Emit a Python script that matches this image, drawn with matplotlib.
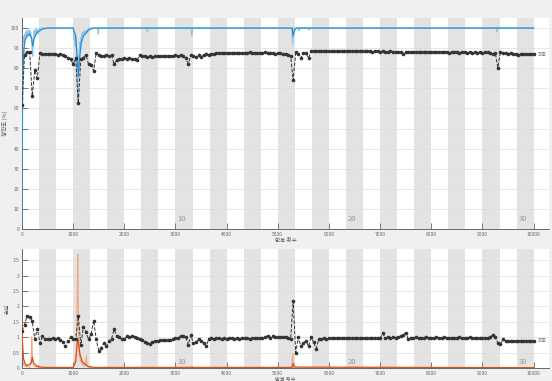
import matplotlib
matplotlib.use("Agg")
import matplotlib.pyplot as plt
import numpy as np

plt.rcParams['font.family'] = ['Noto Sans CJK KR', 'DejaVu Sans']

# Epoch settings
n_epochs = 30
iters_per_epoch = 10000 / 30
epoch_labels = [10, 20, 30]

# Validation checks every 50 iterations
val_iter = list(range(0, 10001, 50))
val_acc = [
    61.5, 86.7, 88.3, 88.0, 66.0, 79.0, 75.0, 87.5, 87.3, 87.0,
    87.2, 87.0, 87.1, 87.0, 86.8, 87.0, 86.5, 86.0, 85.0, 84.5,
    82.0, 85.0, 62.5, 84.8, 85.3, 86.7, 82.0, 81.7, 78.7, 87.5,
    86.5, 86.3, 86.2, 86.4, 86.3, 86.5, 82.0, 84.0, 84.6, 84.8,
    85.0, 84.7, 85.0, 84.5, 84.8, 84.0, 86.5, 86.2, 86.0, 85.8,
    86.0, 85.8, 86.0, 86.1, 85.9, 86.0, 86.2, 86.0, 86.3, 86.1,
    86.4, 86.0, 86.5, 86.3, 85.0, 82.3, 86.5, 86.2, 85.5, 86.5,
    85.5, 86.8, 87.0, 86.8, 87.2, 87.3, 87.5, 87.4, 87.6, 87.5,
    87.6, 87.7, 87.5, 87.8, 87.6, 87.7, 87.8, 87.6, 87.7, 87.9,
    87.7, 87.8, 87.6, 87.8, 87.7, 87.9, 87.5, 87.8, 87.6, 87.3,
    87.5, 87.6, 87.2, 87.0, 86.8, 86.0, 74.0, 88.0, 87.0, 85.0,
    87.5, 87.4, 85.0, 88.5, 88.4, 88.5, 88.6, 88.4, 88.5, 88.6,
    88.5, 88.6, 88.4, 88.5, 88.6, 88.5, 88.7, 88.5, 88.6, 88.5,
    88.6, 88.5, 88.4, 88.6, 88.5, 88.4, 88.5, 88.3, 88.4, 88.5,
    88.3, 88.4, 88.2, 88.3, 88.4, 88.2, 88.3, 88.2, 88.3, 87.0,
    88.2, 88.3, 88.1, 88.2, 88.3, 88.0, 88.2, 88.1, 88.0, 88.2,
    88.1, 88.0, 88.2, 88.0, 87.9, 88.1, 88.0, 87.8, 88.0, 87.9,
    88.0, 87.8, 87.9, 88.0, 87.8, 87.9, 87.7, 87.9, 87.8, 88.0,
    87.8, 87.9, 88.0, 87.5, 87.0, 87.5, 80.3, 88.0, 87.6, 87.5,
    87.3, 87.4, 87.0, 87.2, 86.8, 87.0, 87.2, 86.9, 87.1, 87.0,
    87.0,
]
val_loss = [
    1.20, 1.41, 1.70, 1.66, 1.52, 0.93, 1.28, 0.80, 1.03, 0.93,
    0.95, 0.94, 0.96, 0.95, 0.97, 0.92, 0.85, 0.70, 0.88, 1.00,
    0.93, 0.95, 1.68, 0.74, 1.34, 1.18, 0.93, 1.10, 1.54, 0.93,
    0.56, 0.66, 0.80, 0.70, 0.88, 0.95, 1.25, 1.04, 1.00, 0.95,
    0.93, 1.03, 1.02, 1.03, 1.00, 0.98, 0.95, 0.90, 0.85, 0.80,
    0.78, 0.84, 0.86, 0.88, 0.90, 0.90, 0.92, 0.91, 0.92, 0.95,
    0.97, 0.96, 1.04, 1.05, 1.02, 0.75, 1.07, 0.80, 0.84, 0.93,
    0.88, 0.80, 0.70, 0.95, 0.96, 0.95, 0.97, 0.96, 0.95, 0.96,
    0.95, 0.96, 0.97, 0.95, 0.96, 0.95, 0.96, 0.97, 0.96, 0.95,
    0.96, 0.97, 0.98, 0.96, 0.98, 0.99, 1.05, 0.98, 1.03, 0.99,
    1.00, 1.02, 1.00, 1.01, 0.98, 0.93, 2.18, 0.50, 1.00, 0.70,
    0.80, 0.89, 0.70, 1.00, 0.83, 0.63, 0.93, 0.95, 0.96, 0.95,
    0.96, 0.97, 0.96, 0.98, 0.97, 0.96, 0.97, 0.98, 0.96, 0.97,
    0.98, 0.97, 0.96, 0.97, 0.98, 0.97, 0.96, 0.98, 0.97, 0.98,
    0.97, 1.12, 0.98, 0.99, 0.98, 1.00, 0.98, 1.02, 1.04, 1.07,
    1.15, 0.93, 0.98, 0.97, 0.99, 0.98, 0.97, 0.98, 0.99, 0.98,
    0.97, 0.98, 0.99, 0.97, 0.98, 0.99, 0.98, 0.97, 0.98, 0.97,
    0.98, 0.99, 0.97, 0.98, 0.97, 0.99, 0.98, 0.97, 0.96, 0.98,
    0.97, 0.96, 0.98, 1.00, 1.07, 1.00, 0.82, 0.78, 0.93, 0.88,
    0.87, 0.88, 0.89, 0.87, 0.88, 0.87, 0.88, 0.89, 0.88, 0.88,
    0.88,
]

# Training accuracy (raw and smoothed), read at sparse iterations
train_acc_iter = [1, 5, 10, 20, 30, 40, 50, 60, 70, 80, 90, 100, 110, 120, 130, 140, 150,
                  160, 170, 180, 190, 200, 210, 220, 230, 240, 250, 260, 270, 280, 290, 300,
                  320, 340, 360, 380, 400, 1000, 1010, 1020, 1030, 1040, 1050, 1060, 1070,
                  1080, 1090, 1100, 1110, 1120, 1130, 1140, 1150, 1160, 1170, 1180, 1190,
                  1200, 1220, 1240, 1260, 1280, 1300, 1480, 1490, 1500, 2440, 2450, 2460,
                  3300, 3310, 3320, 3330, 3340, 5270, 5280, 5290, 5300, 5310, 5400, 5410,
                  5420, 5600, 5610, 5620, 9270, 9280, 9290, 10000]
train_acc = [0, 60, 85, 92, 96, 93, 97, 94, 98, 95, 99, 96, 98, 97, 99, 96, 99,
             97, 98, 95, 92, 89, 86, 93, 97, 99, 96, 99, 97, 100, 98, 99,
             97, 100, 99, 100, 100, 100, 98, 94, 97, 91, 95, 86, 78,
             70, 64, 72, 84, 90, 93, 88, 95, 92, 97, 94, 98,
             96, 99, 97, 99, 98, 100, 100, 97, 100, 100, 98, 100,
             100, 97, 96, 98, 100, 100, 96, 92, 97, 100, 100, 98.5,
             100, 100, 99, 100, 100, 98, 100, 100]
smooth_acc_iter = [1, 10, 20, 40, 60, 100, 150, 190, 210, 240, 300, 400, 500, 1000, 1050,
                   1080, 1100, 1130, 1160, 1200, 1300, 1400, 5280, 5300, 5330, 5360, 10000]
smooth_acc = [0, 60, 80, 90, 94, 96, 97, 95, 91, 95, 98, 99.5, 100, 100, 96,
              85, 76, 86, 93, 96, 99, 100, 100, 96, 99, 100, 100]

# Training loss (raw and smoothed)
train_loss_iter = [1, 5, 10, 20, 30, 40, 50, 60, 70, 80, 90, 100, 120, 140, 160, 180, 190,
                   200, 210, 220, 240, 260, 280, 300, 320, 330, 360, 400, 1000, 1020, 1040,
                   1060, 1070, 1080, 1090, 1100, 1110, 1120, 1130, 1140, 1160, 1180, 1200,
                   1220, 1240, 1260, 1270, 1300, 1350, 1400, 3300, 3320, 3340, 5270, 5280,
                   5290, 5300, 5310, 10000]
train_loss = [1.5, 0.9, 0.4, 0.2, 0.15, 0.08, 0.12, 0.05, 0.1, 0.04, 0.06, 0.03, 0.05, 0.02,
              0.04, 0.3, 1.0, 0.5, 0.25, 0.1, 0.04, 0.06, 0.02, 0.03, 0.1, 0.02, 0.01, 0.01,
              0.01, 0.1, 0.3, 0.5, 1.2, 2.5, 3.7, 2.0, 0.8, 0.4, 0.5, 0.2, 0.3, 0.1, 0.15,
              0.05, 0.1, 0.4, 0.05, 0.03, 0.02, 0.01, 0.01, 0.06, 0.01, 0.01, 0.2,
              0.45, 0.15, 0.01, 0.01]
smooth_loss_iter = [1, 10, 30, 60, 100, 180, 200, 230, 300, 400, 1000, 1050, 1080, 1100,
                    1130, 1180, 1250, 1300, 1400, 5280, 5300, 5330, 10000]
smooth_loss = [1.5, 0.8, 0.3, 0.15, 0.08, 0.15, 0.35, 0.15, 0.05, 0.02, 0.02, 0.2, 0.8, 0.9,
               0.45, 0.2, 0.1, 0.05, 0.02, 0.02, 0.15, 0.03, 0.01]

fig = plt.figure(figsize=(5.52, 3.81), dpi=100, facecolor='#f0f0f0')
ax1 = fig.add_axes([22 / 552, 1 - 229 / 381, 527 / 552, 211 / 381])
ax2 = fig.add_axes([22 / 552, 1 - 368 / 381, 527 / 552, 119 / 381])


def style_axes(ax):
    ax.set_facecolor('white')
    ax.set_xlim(0, 10300)
    for e in range(n_epochs):
        if e % 2 == 1:
            ax.axvspan(e * iters_per_epoch, (e + 1) * iters_per_epoch,
                       color='#e3e3e3', lw=0, zorder=0.2)
    ax.set_axisbelow(True)
    ax.grid(axis='y', color='#dddddd', lw=0.5)
    for s in ['top', 'right']:
        ax.spines[s].set_visible(False)
    for s in ['left', 'bottom']:
        ax.spines[s].set_color('#666666')
        ax.spines[s].set_linewidth(0.7)
    ax.set_xticks(range(0, 10001, 1000))
    ax.tick_params(direction='in', length=4, width=0.6, colors='#666666',
                   labelsize=3.5, pad=2)


style_axes(ax1)
ax1.set_ylim(0, 105)
ax1.set_yticks(range(0, 101, 10))
ax1.plot(train_acc_iter, train_acc, color='#8cc3ea', lw=0.8, zorder=2)
ax1.plot(smooth_acc_iter, smooth_acc, color='#2a8fd0', lw=0.9, zorder=3)
ax1.plot(val_iter, val_acc, color='#333333', ls='--', lw=0.7, marker='o',
         markersize=2.6, markerfacecolor='#333333', markeredgewidth=0, zorder=4)
ax1.text(10080, val_acc[-1], '최종', fontsize=3.5, color='#777777', va='center')
ax1.set_xlabel('반복 횟수', fontsize=4, color='#555555', labelpad=1)
ax1.set_ylabel('정확도 (%)', fontsize=4, color='#555555', labelpad=2)
for n in epoch_labels:
    ax1.text((n - 1) * iters_per_epoch + 40, 4, str(n), fontsize=5.5, color='#999999')

style_axes(ax2)
ax2.set_ylim(0, 3.86)
ax2.set_yticks([0, 0.5, 1, 1.5, 2, 2.5, 3, 3.5])
ax2.set_yticklabels(['0', '0.5', '1', '1.5', '2', '2.5', '3', '3.5'])
ax2.plot(train_loss_iter, train_loss, color='#f4a67f', lw=0.8, zorder=2)
ax2.plot(smooth_loss_iter, smooth_loss, color='#d95319', lw=0.9, zorder=3)
ax2.plot(val_iter, val_loss, color='#333333', ls='--', lw=0.7, marker='o',
         markersize=2.6, markerfacecolor='#333333', markeredgewidth=0, zorder=4)
ax2.text(10080, val_loss[-1], '최종', fontsize=3.5, color='#777777', va='center')
ax2.set_xlabel('반복 횟수', fontsize=3.8, color='#555555', labelpad=0)
ax2.set_ylabel('손실', fontsize=4, color='#555555', labelpad=2)
for n in epoch_labels:
    ax2.text((n - 1) * iters_per_epoch + 40, 0.12, str(n), fontsize=5.5, color='#999999')

fig.savefig('out.png', dpi=100, facecolor=fig.get_facecolor())
